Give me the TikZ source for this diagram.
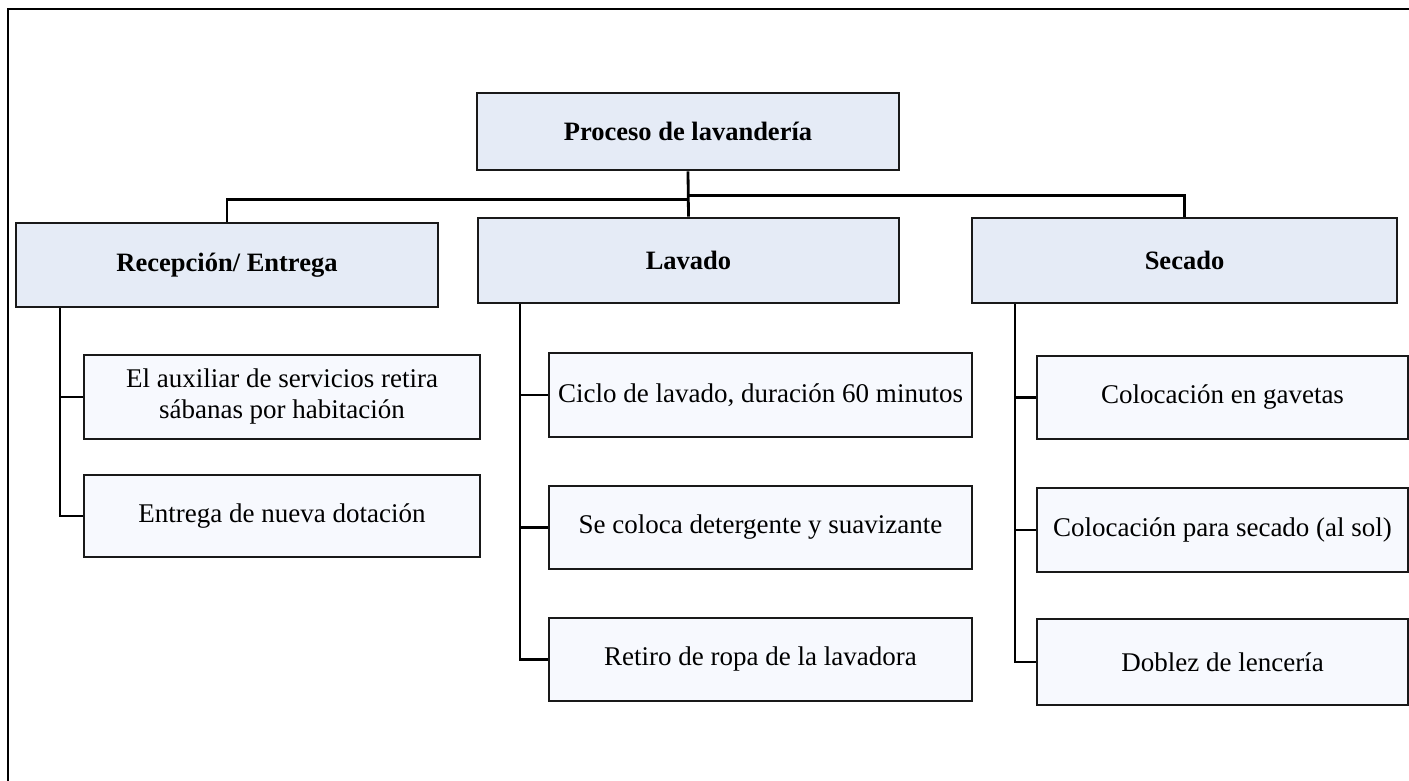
\documentclass[tikz,border=0pt]{standalone}
\usepackage{fontspec}
\setmainfont{Liberation Serif}
\usetikzlibrary{calc}
\definecolor{headfill}{HTML}{E5EBF6}
\definecolor{childfill}{HTML}{F7F9FE}
\tikzset{
  headbox/.style={draw=black!90, line width=2.6pt, fill=headfill, inner sep=0pt, align=center, font=\fontsize{26.5}{31}\selectfont\bfseries},
  childbox/.style={draw=black!90, line width=2.6pt, fill=childfill, inner sep=0pt, align=center, font=\fontsize{27}{31}\selectfont},
  conn/.style={draw=black, line width=2.8pt}
}
\begin{document}
\begin{tikzpicture}[x=1pt,y=-1pt]
\useasboundingbox (0,0) rectangle (1409,781);
\draw[line width=2.6pt] (8,781) -- (8,9) -- (1409,9);
% headers
\node[headbox, minimum width=422pt, minimum height=77pt] (root) at (688,131.5) {Proceso de lavandería};
\node[headbox, minimum width=422pt, minimum height=84pt] (rec) at (227,265) {Recepción/ Entrega};
\node[headbox, minimum width=421pt, minimum height=85pt] (lav) at (688.5,260.5) {Lavado};
\node[headbox, minimum width=425pt, minimum height=85pt] (sec) at (1184.5,260.5) {Secado};
% children Recepcion
\node[childbox, minimum width=396pt, minimum height=84pt] (r1) at (282,397) {El auxiliar de servicios retira\\sábanas por habitación};
\node[childbox, minimum width=396pt, minimum height=82pt] (r2) at (282,516) {Entrega de nueva dotación};
% children Lavado
\node[childbox, minimum width=423pt, minimum height=84pt] (l1) at (760.5,395) {Ciclo de lavado, duración 60 minutos};
\node[childbox, minimum width=423pt, minimum height=83pt] (l2) at (760.5,527.5) {Se coloca detergente y suavizante};
\node[childbox, minimum width=423pt, minimum height=83pt] (l3) at (760.5,659.5) {Retiro de ropa de la lavadora};
% children Secado
\node[childbox, minimum width=371pt, minimum height=83pt] (s1) at (1222.5,397.5) {Colocación en gavetas};
\node[childbox, minimum width=371pt, minimum height=84pt] (s2) at (1222.5,530) {Colocación para secado (al sol)};
\node[childbox, minimum width=371pt, minimum height=86pt] (s3) at (1222.5,662) {Doblez de lencería};
% connectors top level
\draw[conn] (root.south) -- (lav.north);
\draw[conn] (rec.north) |- ($(root.south)+(0,28)$);
\draw[conn] (sec.north) |- ($(root.south)+(0,24)$);
% spines
\draw[conn] ([xshift=-167pt]rec.south) |- (r1.west);
\draw[conn] ([xshift=-167pt]rec.south) |- (r2.west);
\draw[conn] ([xshift=-168.5pt]lav.south) |- (l1.west);
\draw[conn] ([xshift=-168.5pt]lav.south) |- (l2.west);
\draw[conn] ([xshift=-168.5pt]lav.south) |- (l3.west);
\draw[conn] ([xshift=-169.5pt]sec.south) |- (s1.west);
\draw[conn] ([xshift=-169.5pt]sec.south) |- (s2.west);
\draw[conn] ([xshift=-169.5pt]sec.south) |- (s3.west);
\end{tikzpicture}
\end{document}
